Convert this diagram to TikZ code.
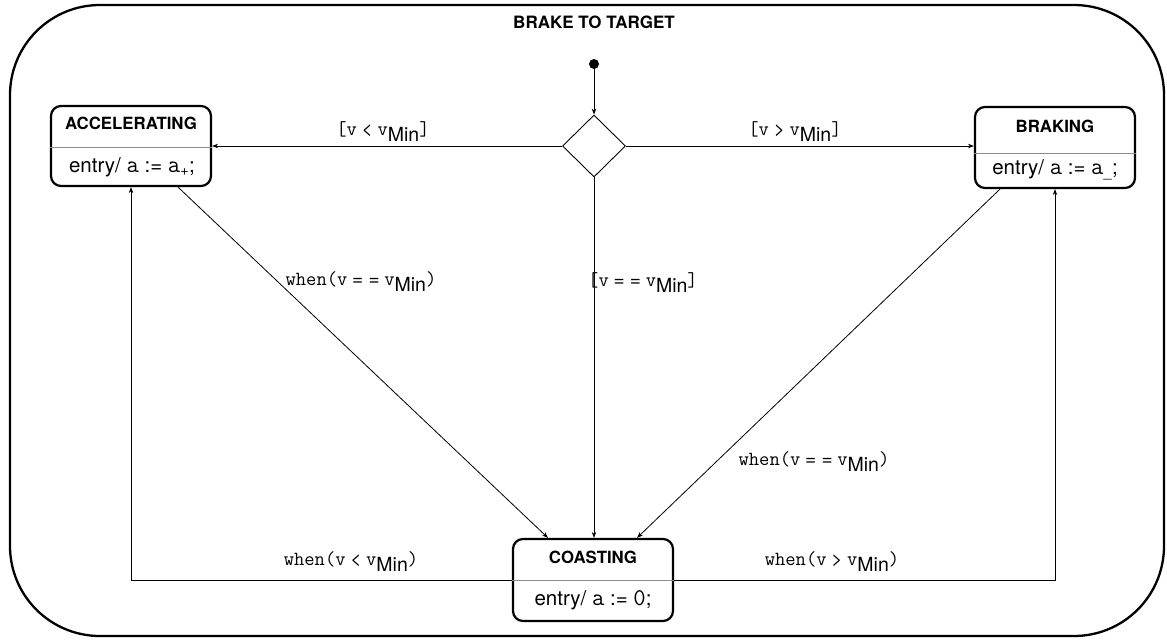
\documentclass[tikz,border=0pt]{standalone}
\usepackage{fontspec}
\setmainfont{TeX Gyre Heros}
\setsansfont{TeX Gyre Heros}
\usetikzlibrary{shapes.geometric,arrows.meta,calc}
% label pieces: mono part at 20pt, sans part at 19pt
\newcommand{\mo}[1]{{\fontsize{20}{22}\selectfont\ttfamily #1}}
\newcommand{\sa}[1]{{\fontsize{19}{22}\selectfont #1}}
\newcommand{\vmin}{\mo{v}\raisebox{-6pt}{\fontsize{19.5}{22}\selectfont\sffamily Min}}
\newcommand{\ma}[1]{{\fontsize{24}{26}\selectfont\ttfamily #1}}
\begin{document}
\begin{tikzpicture}[x=1pt,y=-1pt,
  statebox/.style={draw,line width=2.2pt,rounded corners=10pt,minimum width=160pt,inner sep=0pt},
  divider/.style={draw=black!45,line width=0.8pt},
  sttitle/.style={font=\fontsize{16.8}{19}\selectfont\bfseries},
  stentry/.style={font=\fontsize{20.5}{23}\selectfont},
  arr/.style={-{Stealth[length=6pt,width=4.5pt]},line width=0.8pt},
  lbl/.style={font=\fontsize{17}{20}\selectfont,inner sep=1pt}]
\useasboundingbox (0,0) rectangle (1167,643);
\draw[line width=2.3pt,rounded corners=90pt] (10,5) rectangle (1164,636);
\node[font=\fontsize{17}{20}\selectfont\bfseries] (title) at (594,22) {BRAKE TO TARGET};

% states
\node[statebox,minimum height=80pt] (acc) at (131,146) {};
\draw[divider] ($(acc.west)+(0,1)$) -- ($(acc.east)+(0,1)$);
\node[sttitle] (acct) at (131,123) {ACCELERATING};
\node[stentry] (acce) at (132,167) {entry/ \ma{a} := \ma{a}\textsubscript{+};};

\node[statebox,minimum height=81pt] (brk) at (1055,147.5) {};
\draw[divider] ($(brk.west)+(0,5.5)$) -- ($(brk.east)+(0,5.5)$);
\node[sttitle] (brkt) at (1055,126) {BRAKING};
\node[stentry] (brke) at (1055,170) {entry/ \ma{a} := \ma{a}\textsubscript{\_};};

\node[statebox,minimum height=82pt] (coa) at (593,580) {};
\draw[divider] (coa.west) -- (coa.east);
\node[sttitle] (coat) at (593,557) {COASTING};
\node[stentry] (coae) at (593,600) {entry/ \ma{a} := \ma{0};};

% pseudo states
\node[circle,fill=black,minimum size=10pt,inner sep=0pt] (init) at (594,64) {};
\node[draw,diamond,line width=0.9pt,minimum width=63pt,minimum height=62pt,inner sep=0pt,aspect=1] (dia) at (594,146) {};

% connectors
\draw[arr] (init) -- (dia.north);
\draw[arr] (dia.west) -- (dia.west -| acc.east);
\draw[arr] (dia.east) -- (dia.east -| brk.west);
\draw[arr] (dia.south) -- (dia.south |- coa.north);
\draw[arr] ([xshift=47pt]acc.south) -- ([xshift=-45pt]coa.north);
\draw[arr] ([xshift=-55pt]brk.south) -- ([xshift=44pt]coa.north);
\draw[arr] (coa.west) -| (acc.south);
\draw[arr] (coa.east) -| (brk.south);

% labels
\node[lbl] (l1) at (383,132) {\mo{[v} \sa{<} \vmin\mo{]}};
\node[lbl] (l2) at (795,132) {\mo{[v} \sa{>} \vmin\mo{]}};
\node[lbl] (l3) at (643,283) {\mo{[v} \sa{= =} \vmin\mo{]}};
\node[lbl] (l4) at (361,282) {\mo{when(v} \sa{= =} \vmin\mo{)}};
\node[lbl] (l5) at (814,462) {\mo{when(v} \sa{= =} \vmin\mo{)}};
\node[lbl] (l6) at (351,562) {\mo{when(v} \sa{<} \vmin\mo{)}};
\node[lbl] (l7) at (832,562) {\mo{when(v} \sa{>} \vmin\mo{)}};
\end{tikzpicture}
\end{document}
